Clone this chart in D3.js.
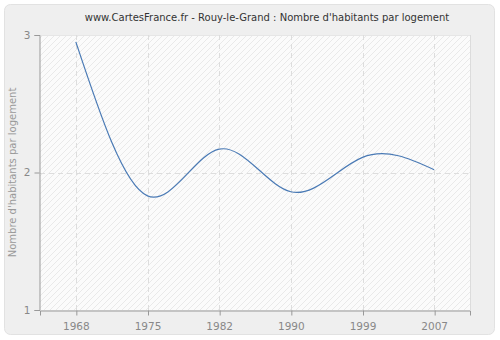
<!DOCTYPE html>
<html><head><meta charset="utf-8">
<script src="https://cdn.jsdelivr.net/npm/d3@7/dist/d3.min.js"></script>
<style>body{margin:0;background:#fff}svg{display:block}</style>
</head><body>
<svg id="c" width="500" height="340"></svg>
<script>
const years = ["1968","1975","1982","1990","1999","2007"];
const values = [2.95, 1.83, 2.17, 1.86, 2.11, 2.02];
const yTicks = [1, 2, 3];
const title = "www.CartesFrance.fr - Rouy-le-Grand : Nombre d'habitants par logement";
const yLabel = "Nombre d'habitants par logement";

const svg = d3.select("#c");
const m = {l:40, r:470, t:35, b:310};
const font = "DejaVu Sans, Verdana, sans-serif";

const defs = svg.append("defs");
const pat = defs.append("pattern").attr("id","hatch").attr("patternUnits","userSpaceOnUse")
  .attr("width",6).attr("height",6);
pat.append("rect").attr("width",6).attr("height",6).attr("fill","#fbfbfb");
pat.append("path").attr("d","M-1,7 L7,-1 M-1,1 L1,-1 M5,7 L7,5").attr("stroke","#e9e9e9").attr("stroke-width",1);

svg.append("rect").attr("x",4.5).attr("y",4.5).attr("width",490).attr("height",330).attr("rx",6)
  .attr("fill","#efefef").attr("stroke","#e2e2e2");

const x = d3.scalePoint().domain(years).range([m.l, m.r]).padding(0.5);
const y = d3.scaleLinear().domain([1,3]).range([m.b, m.t]);

svg.append("rect").attr("x",m.l).attr("y",m.t).attr("width",m.r-m.l).attr("height",m.b-m.t)
  .attr("fill","url(#hatch)");
svg.append("line").attr("x1",m.r+0.5).attr("x2",m.r+0.5).attr("y1",m.t).attr("y2",m.b).attr("stroke","#dcdcdc");
svg.append("line").attr("x1",m.l).attr("x2",m.r).attr("y1",m.t+0.5).attr("y2",m.t+0.5).attr("stroke","#e6e6e6");

// grid
svg.append("g").selectAll("line").data(years).join("line")
  .attr("x1",d=>Math.round(x(d))+0.5).attr("x2",d=>Math.round(x(d))+0.5)
  .attr("y1",m.t).attr("y2",m.b).attr("stroke","#dddddd").attr("stroke-dasharray","5,4");
svg.append("g").selectAll("line").data([2]).join("line")
  .attr("x1",m.l).attr("x2",m.r).attr("y1",d=>Math.round(y(d))+0.5).attr("y2",d=>Math.round(y(d))+0.5)
  .attr("stroke","#dddddd").attr("stroke-dasharray","5,4");

// axes
const xa = svg.append("g").attr("transform",`translate(0,${m.b+0.5})`)
  .call(d3.axisBottom(x).tickSize(5).tickPadding(4));
const ya = svg.append("g").attr("transform",`translate(${m.l-0.5},0)`)
  .call(d3.axisLeft(y).tickValues(yTicks).tickFormat(d3.format("d")).tickSize(5).tickPadding(4));
[xa,ya].forEach(g=>{
  g.select(".domain").attr("stroke","#999");
  g.selectAll(".tick line").attr("stroke","#999");
  g.selectAll("text").attr("fill","#888").attr("font-family",font).attr("font-size",10.5);
});
xa.selectAll(".tick line").attr("transform","translate(0.5,0)");
xa.selectAll("text").attr("dy","1em");

// line
const line = d3.line().x((d,i)=>x(years[i])).y(d=>y(d)).curve(d3.curveNatural);
svg.append("path").datum(values).attr("d",line).attr("fill","none")
  .attr("stroke","#4a7ab5").attr("stroke-width",1.2);

svg.append("text").attr("x",267).attr("y",21).attr("text-anchor","middle")
  .attr("font-family",font).attr("font-size",10).attr("fill","#333").text(title);
svg.append("text").attr("transform",`translate(16,${(m.t+m.b)/2}) rotate(-90)`)
  .attr("text-anchor","middle").attr("font-family",font).attr("font-size",10).attr("fill","#999").text(yLabel);
</script>
</body></html>
